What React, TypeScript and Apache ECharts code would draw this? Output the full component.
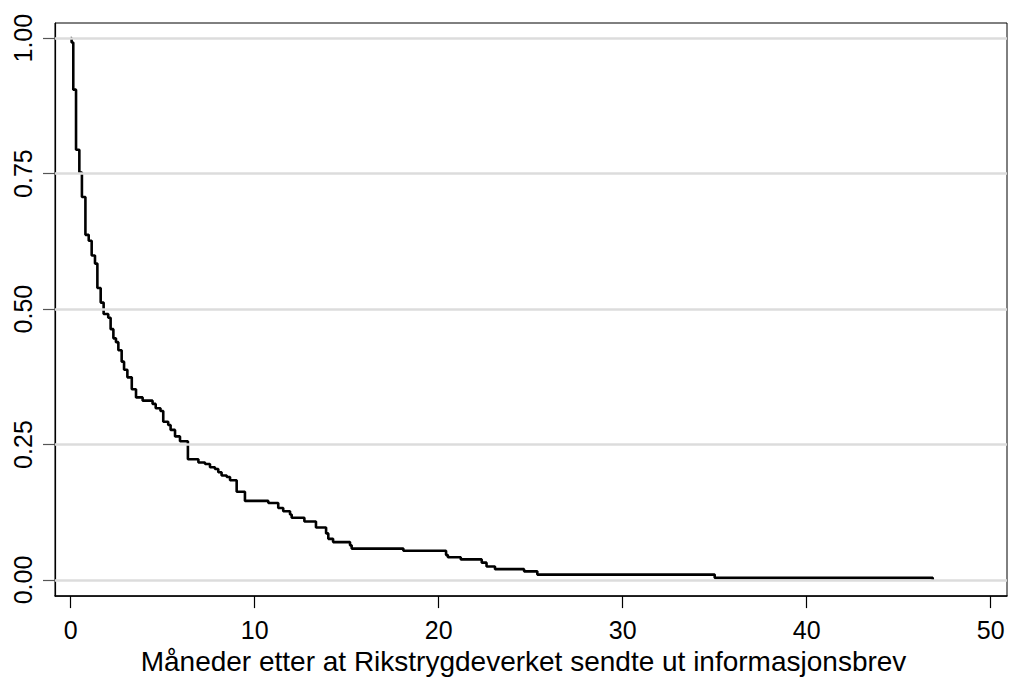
import React, { useEffect, useRef } from "react";
import * as echarts from "echarts";

// Kaplan–Meier step: months at which the estimate drops, and the estimate after each drop
const months = [
  0, 0.05, 0.14, 0.29, 0.47, 0.61, 0.8, 0.98, 1.14, 1.32, 1.45, 1.63, 1.79, 2.04, 2.17,
  2.32, 2.46, 2.59, 2.77, 2.9, 3.08, 3.32, 3.55, 3.91, 4.45, 4.62, 4.88, 5.03, 5.3, 5.43,
  5.67, 5.94, 6.37, 6.94, 7.3, 7.57, 7.84, 8.02, 8.2, 8.48, 8.66, 9.02, 9.47, 10.74,
  11.28, 11.55, 11.92, 12.01, 12.7, 13.33, 13.88, 14.0, 14.26, 15.18, 15.27, 18.08,
  20.4, 20.5, 21.2, 22.34, 22.6, 23.06, 24.64, 25.36, 35.0, 46.85,
];
const survival = [
  1.0, 0.992, 0.905, 0.794, 0.752, 0.707, 0.637, 0.626, 0.599, 0.584, 0.539, 0.512, 0.491,
  0.484, 0.463, 0.446, 0.439, 0.424, 0.403, 0.388, 0.374, 0.352, 0.337, 0.331, 0.325,
  0.317, 0.312, 0.292, 0.286, 0.277, 0.265, 0.256, 0.223, 0.217, 0.214, 0.208, 0.205,
  0.199, 0.193, 0.19, 0.184, 0.163, 0.146, 0.142, 0.133, 0.127, 0.121, 0.115, 0.108,
  0.097, 0.086, 0.076, 0.07, 0.064, 0.058, 0.054, 0.046, 0.042, 0.038, 0.032, 0.025,
  0.02, 0.016, 0.01, 0.004, 0.0,
];

const xTicks = [0, 10, 20, 30, 40, 50];
const yTicks = [0, 0.25, 0.5, 0.75, 1];
const xTitle = "Måneder etter at Rikstrygdeverket sendte ut informasjonsbrev";

const FONT = "'Liberation Sans', Arial, sans-serif";

export default function App() {
  const ref = useRef<HTMLDivElement>(null);

  useEffect(() => {
    if (!ref.current) return;
    const chart = echarts.init(ref.current, null, { renderer: "svg" });
    const points = months.map((m, i) => [m, survival[i]]);

    chart.setOption({
      animation: false,
      backgroundColor: "#ffffff",
      grid: {
        left: 55,
        top: 23,
        right: 2,
        bottom: 70,
        show: true,
        borderColor: "#000",
        borderWidth: 1,
      },
      xAxis: {
        type: "value",
        min: -0.853,
        max: 50.886,
        name: xTitle,
        nameLocation: "middle",
        nameGap: 41,
        nameTextStyle: {
          fontFamily: FONT,
          fontSize: 28,
          color: "#000",
          padding: [0, 15, 0, 0],
        },
        axisLine: { show: true, onZero: false, lineStyle: { color: "#000", width: 1.5 } },
        axisTick: {
          show: true,
          length: 12,
          customValues: xTicks,
          lineStyle: { color: "#000", width: 1.2 },
        },
        axisLabel: {
          customValues: xTicks,
          margin: 21,
          fontFamily: FONT,
          fontSize: 25,
          color: "#000",
          formatter: (v: number) => String(v),
        },
        splitLine: { show: false },
      },
      yAxis: {
        type: "value",
        min: -0.0297,
        max: 1.028,
        axisLine: { show: true, onZero: false, lineStyle: { color: "#000", width: 1.2 } },
        axisTick: {
          show: true,
          length: 12,
          customValues: yTicks,
          lineStyle: { color: "#555", width: 1.2 },
        },
        axisLabel: {
          customValues: yTicks,
          rotate: 90,
          margin: 20,
          fontFamily: FONT,
          fontSize: 25,
          color: "#000",
          formatter: (v: number) => v.toFixed(2),
        },
        splitLine: { show: false },
      },
      series: [
        {
          name: "grid",
          type: "line",
          data: [],
          z: 1,
          silent: true,
          markLine: {
            silent: true,
            symbol: "none",
            label: { show: false },
            lineStyle: { color: "#dcdcdc", width: 2.5, type: "solid" },
            data: yTicks.map((v) => ({ yAxis: v })),
          },
        },
        {
          name: "survival",
          type: "line",
          step: "end",
          data: points,
          z: 3,
          symbol: "none",
          lineStyle: { color: "#000", width: 2.6 },
        },
      ],
    });

    return () => chart.dispose();
  }, []);

  return (
    <div
      ref={ref}
      style={{ position: "fixed", left: 0, top: 0, width: 1009, height: 680 }}
    />
  );
}
